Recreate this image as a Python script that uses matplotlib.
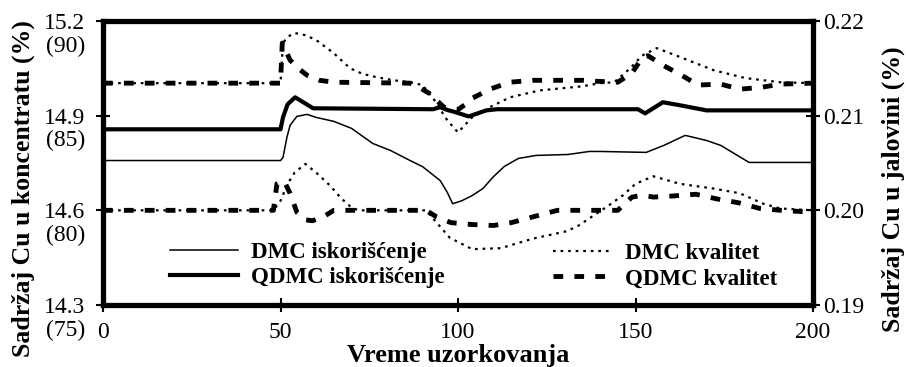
import matplotlib
matplotlib.use('Agg')
import matplotlib.pyplot as plt
from matplotlib.transforms import ScaledTranslation
from matplotlib.ticker import FormatStrFormatter

plt.rcParams['font.family'] = 'Liberation Serif'

# iskoriscenje (recovery, %) - scale shown in parentheses on the left
dmc_isk_x = [0, 50, 50.7, 51.8, 52.7, 54.6, 57.5, 60, 65, 70, 76, 81, 86.5, 90, 95, 97,
             98.5, 101, 104, 107, 110, 113, 117, 122, 131, 137, 140, 153, 158, 164,
             170, 174, 182, 200]
dmc_isk_y = [82.63, 82.63, 82.79, 83.85, 84.49, 84.96, 85.07, 84.91, 84.7, 84.33, 83.53,
             83.16, 82.63, 82.31, 81.57, 80.94, 80.35, 80.5, 80.78, 81.15, 81.78, 82.31,
             82.74, 82.9, 82.95, 83.11, 83.11, 83.06, 83.43, 83.96, 83.69, 83.43, 82.53,
             82.53]

qdmc_isk_x = [0, 50, 50.7, 52, 54.1, 56.5, 59.2, 93, 95, 97, 99, 103, 108, 111, 150.7,
              152.7, 157.7, 162.5, 170, 200]
qdmc_isk_y = [84.28, 84.28, 84.91, 85.6, 85.97, 85.7, 85.39, 85.34, 85.45, 85.3, 85.2,
              84.96, 85.28, 85.34, 85.34, 85.12, 85.71, 85.55, 85.28, 85.28]

# kvalitet koncentrata (Cu u koncentratu, %)
dmc_konc_x = [0, 50, 50.7, 52, 54, 57, 60, 65, 69.6, 73, 77, 82, 86.5, 90, 93, 97, 100,
              104, 109, 114.6, 123, 135, 140, 144, 148.5, 151.8, 156, 162.5, 172, 181,
              190.7, 200]
dmc_konc_y = [15.003, 15.003, 15.13, 15.15, 15.162, 15.155, 15.14, 15.098, 15.05, 15.033,
              15.022, 15.012, 15.006, 14.997, 14.955, 14.885, 14.847, 14.895, 14.927,
              14.958, 14.98, 14.993, 15.003, 15.006, 15.05, 15.09, 15.114, 15.086, 15.044,
              15.019, 15.006, 15.003]

qdmc_konc_x = [0, 50, 50.5, 52.7, 55, 57.5, 61, 65, 86.5, 89, 92, 96, 99.7, 102, 104, 109,
               114.6, 121, 135, 139, 145, 149, 152, 153.5, 157.7, 163, 167.6, 174, 179.4,
               185.6, 190.7, 200]
qdmc_konc_y = [15.003, 15.003, 15.13, 15.076, 15.05, 15.028, 15.012, 15.006, 15.003,
               14.99, 14.97, 14.927, 14.917, 14.935, 14.955, 14.984, 15.006, 15.012,
               15.012, 15.009, 15.006, 15.035, 15.086, 15.09, 15.06, 15.028, 14.997, 15.0,
               14.984, 14.99, 15.0, 15.003]

# kvalitet jalovine (Cu u jalovini, %)
dmc_jal_x = [0, 48, 50, 52, 54, 57, 60, 64, 67, 70, 72, 91, 94, 97.7, 104, 112, 121,
             130.7, 134, 138, 142, 146.5, 150, 155, 162.5, 172, 179.4, 186, 190.7, 200]
dmc_jal_y = [0.200, 0.200, 0.2010, 0.2028, 0.2040, 0.2049, 0.2040, 0.2026, 0.2013, 0.2003,
             0.200, 0.200, 0.1987, 0.1971, 0.1959, 0.1960, 0.1970, 0.1978, 0.1984, 0.1994,
             0.2004, 0.2016, 0.2028, 0.2036, 0.2028, 0.2023, 0.2018, 0.2007, 0.2002, 0.200]

qdmc_jal_x = [0, 48, 49, 51, 52.7, 54.6, 57, 59, 62, 65, 91, 94, 98, 104, 110, 115, 121,
              128, 145, 149, 152, 155, 160, 167, 173, 179, 185, 191, 200]
qdmc_jal_y = [0.200, 0.200, 0.2028, 0.2031, 0.2018, 0.1998, 0.1990, 0.1989, 0.1993, 0.200,
              0.200, 0.1993, 0.1987, 0.1985, 0.1984, 0.1987, 0.1993, 0.200, 0.200, 0.2014,
              0.2016, 0.2014, 0.2015, 0.2017, 0.2012, 0.2008, 0.2002, 0.200, 0.1998]

konc_ticks = [14.3, 14.6, 14.9, 15.2]
isk_ticks = [75, 80, 85, 90]
jal_ticks = [0.19, 0.20, 0.21, 0.22]
x_ticks = [0, 50, 100, 150, 200]

fig = plt.figure(figsize=(9.06, 3.67), dpi=100)
ax = fig.add_axes([103 / 906, 62 / 367, 710 / 906, 284 / 367])
ax_r = ax.twinx()
ax_isk = ax.twinx()

thin = dict(color='black', lw=1.1)
thick = dict(color='black', lw=3.0)
dotted = dict(color='black', lw=1.6, dashes=(1.2, 2.2))
dashed = dict(color='black', lw=3.5, dashes=(2.0, 2.3))

l1, = ax_isk.plot(dmc_isk_x, dmc_isk_y, **thin)
l2, = ax_isk.plot(qdmc_isk_x, qdmc_isk_y, **thick)
l3, = ax.plot(dmc_konc_x, dmc_konc_y, **dotted)
l4, = ax.plot(qdmc_konc_x, qdmc_konc_y, **dashed)
ax_r.plot(dmc_jal_x, dmc_jal_y, **dotted)
ax_r.plot(qdmc_jal_x, qdmc_jal_y, **dashed)

ax.set_xlim(0, 200)
ax.set_ylim(14.3, 15.2)
ax_r.set_ylim(0.19, 0.22)
ax_isk.set_ylim(75, 90)

ax.set_xticks(x_ticks)
ax.set_yticks(konc_ticks)
ax.yaxis.set_major_formatter(FormatStrFormatter('%.1f'))
ax_r.set_yticks(jal_ticks)
ax_r.yaxis.set_major_formatter(FormatStrFormatter('%.2f'))
ax_isk.set_yticks([])

for s in ax.spines.values():
    s.set_linewidth(3.8)
for a in (ax_r, ax_isk):
    for s in a.spines.values():
        s.set_visible(False)

ax.tick_params(axis='both', direction='inout', length=10, width=1.5, labelsize=17)
ax.tick_params(axis='x', pad=7)
ax.tick_params(axis='y', pad=8)
ax_r.tick_params(axis='y', direction='inout', length=10, width=1.5, labelsize=17, pad=2)

# recovery values in parentheses under the concentrate ticks
off = ScaledTranslation(-13 / 72, -18 / 72, fig.dpi_scale_trans)
for v in isk_ticks:
    ax_isk.text(0, v, '(%d)' % v, transform=ax_isk.get_yaxis_transform() + off,
                ha='right', va='center', fontsize=17)

bold = dict(fontsize=18.5, fontweight='bold')
ax.set_xlabel('Vreme uzorkovanja', fontsize=19, fontweight='bold')
ax.xaxis.set_label_coords(0.5, -0.138)
ax.set_ylabel('Sadržaj Cu u koncentratu (%)', **bold)
ax.yaxis.set_label_coords(-0.096, 0.41)
ax_r.set_ylabel('Sadržaj Cu u jalovini (%)', **bold)
ax_r.yaxis.set_label_coords(1.097, 0.408)

leg_kw = dict(frameon=False, loc='center left', borderpad=0, borderaxespad=0,
              labelspacing=0.2, handletextpad=0.55,
              prop={'size': 16.5, 'weight': 'bold'})
leg1 = ax_isk.legend([l1, l2], ['DMC iskorišćenje', 'QDMC iskorišćenje'],
                     bbox_to_anchor=(0.094, 0.141), handlelength=3.0, **leg_kw)
ax_isk.add_artist(leg1)
ax_isk.legend([l3, l4], ['DMC kvalitet', 'QDMC kvalitet'],
              bbox_to_anchor=(0.634, 0.137), handlelength=2.6, **leg_kw)

fig.savefig('out.png', dpi=100)
